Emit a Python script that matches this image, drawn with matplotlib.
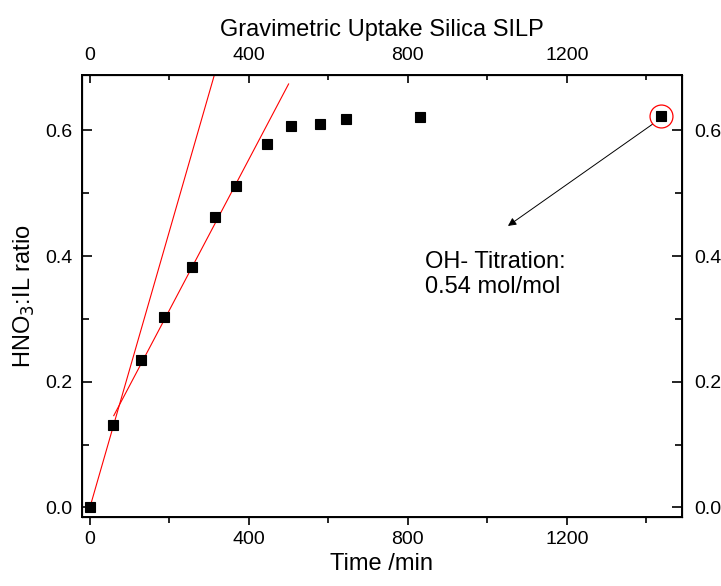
import numpy as np
import matplotlib
matplotlib.use("Agg")
from matplotlib import pyplot as plt
from matplotlib.ticker import MultipleLocator

plt.rcParams['font.family'] = ['Liberation Sans', 'DejaVu Sans']

# data
time_min = [0, 59, 129, 186, 257, 314, 368, 445, 506, 578, 645, 831, 1436]
ratio = [0.0, 0.131, 0.235, 0.303, 0.383, 0.463, 0.511, 0.579, 0.607, 0.611, 0.618, 0.621, 0.623]

# two red guide lines (start/end points)
fit1_x = [0, 313]
fit1_y = [0.0, 0.688]
fit2_x = [60, 500]
fit2_y = [0.146, 0.674]

fig = plt.figure(figsize=(7.21, 5.86), dpi=100)
ax = fig.add_axes([0.1137, 0.1177, 0.8322, 0.7535])

ax.plot(fit1_x, fit1_y, color='red', lw=0.8)
ax.plot(fit2_x, fit2_y, color='red', lw=0.8)
ax.plot(time_min, ratio, 's', color='black', ms=7, mec='black', mew=0.8, zorder=5)

# circle around last point + arrow
ax.plot(time_min[-1], ratio[-1], 'o', ms=16.5, mfc='none', mec='red', mew=0.9, zorder=6)
ax.annotate('', xy=(1052, 0.448), xytext=(1416, 0.610),
            arrowprops=dict(arrowstyle='-|>', color='black', lw=0.7,
                            mutation_scale=12, shrinkA=0, shrinkB=0))
ax.text(843, 0.341, 'OH- Titration:\n0.54 mol/mol', fontsize=17,
        ha='left', va='baseline')

xlim = (-20, 1490)
ylim = (-0.0154, 0.6875)
ax.set_xlim(xlim)
ax.set_ylim(ylim)

ax.xaxis.set_major_locator(MultipleLocator(400))
ax.xaxis.set_minor_locator(MultipleLocator(200))
ax.yaxis.set_major_locator(MultipleLocator(0.2))
ax.yaxis.set_minor_locator(MultipleLocator(0.1))
ax.yaxis.set_major_formatter(plt.FormatStrFormatter('%.1f'))

ax.tick_params(axis='x', which='both', direction='out', length=6, width=1.2,
               labelsize=14, pad=4)
ax.tick_params(axis='y', which='both', direction='in', length=7, width=1.2,
               labelsize=14, pad=7)
ax.tick_params(axis='y', which='minor', length=5)
ax.tick_params(axis='x', which='minor', length=4)

for s in ax.spines.values():
    s.set_linewidth(1.4)

ax.set_xlabel('Time /min', fontsize=17, labelpad=4)
ax.set_ylabel('HNO$_3$:IL ratio', fontsize=17, labelpad=6)

# top axis
axt = ax.twiny()
axt.set_xlim(xlim)
axt.xaxis.set_major_locator(MultipleLocator(400))
axt.xaxis.set_minor_locator(MultipleLocator(200))
axt.tick_params(axis='x', which='both', direction='in', length=6, width=1.2,
                labelsize=14, pad=8)
axt.tick_params(axis='x', which='minor', length=3.5)
axt.set_xlabel('Gravimetric Uptake Silica SILP', fontsize=17, labelpad=8)

# right axis
axr = ax.twinx()
axr.set_ylim(ylim)
axr.yaxis.set_major_locator(MultipleLocator(0.2))
axr.yaxis.set_minor_locator(MultipleLocator(0.1))
axr.yaxis.set_major_formatter(plt.FormatStrFormatter('%.1f'))
axr.tick_params(axis='y', which='both', direction='in', length=7, width=1.2,
                labelsize=14, pad=9)
axr.tick_params(axis='y', which='minor', length=5)

plt.savefig('out.png', dpi=100)
